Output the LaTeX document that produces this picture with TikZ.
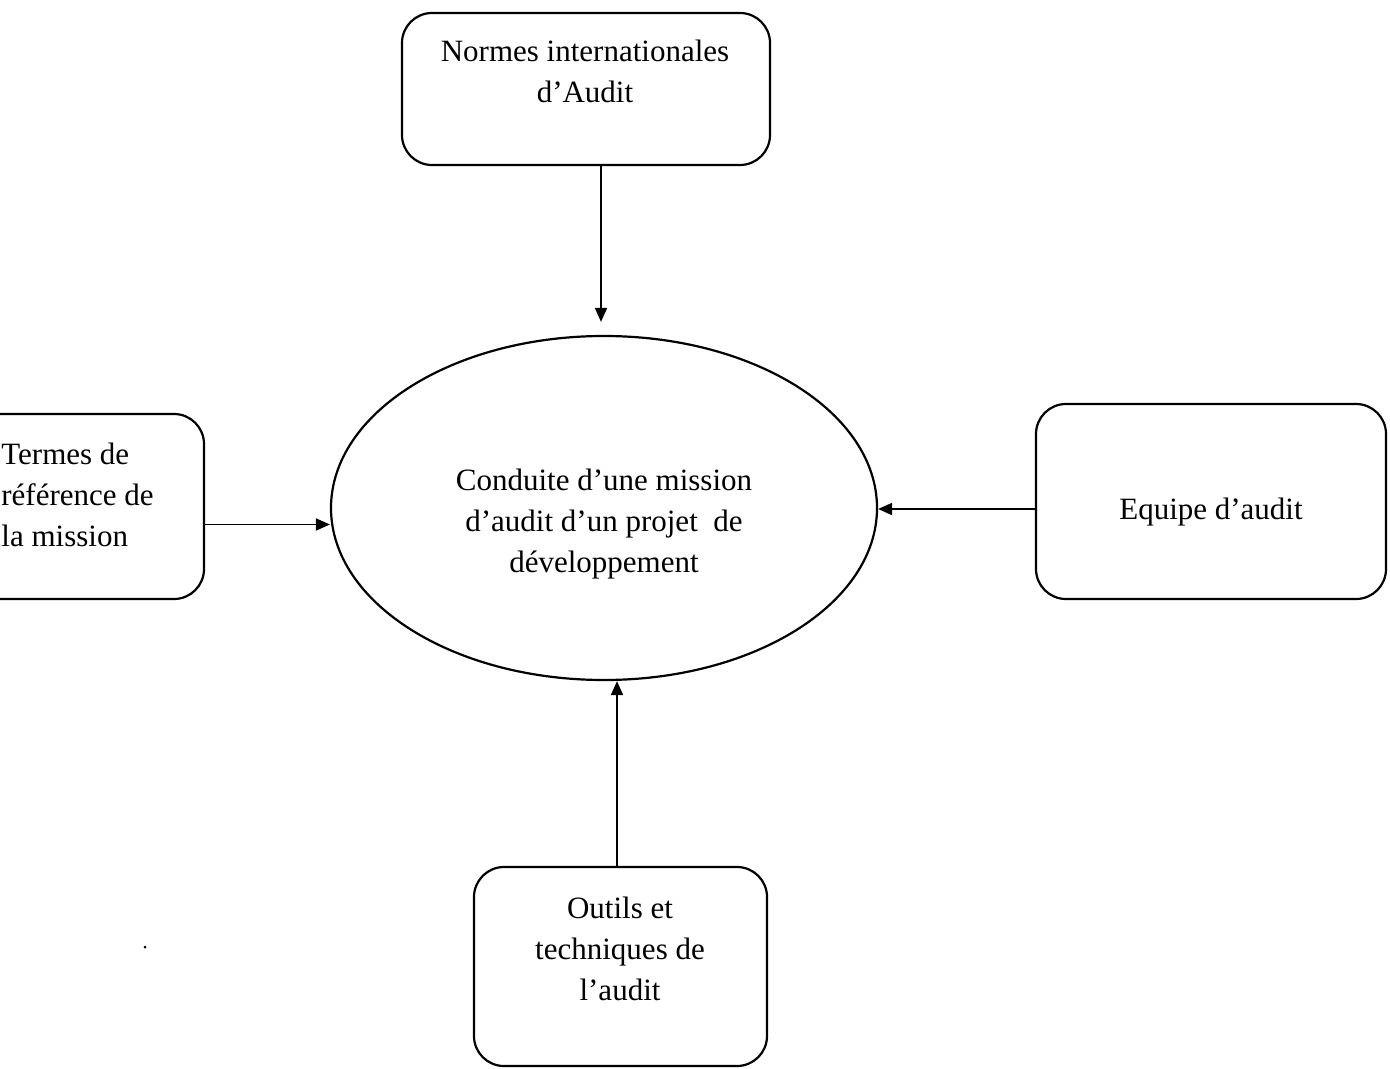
\documentclass[tikz,border=0pt]{standalone}
\usepackage{fontspec}
\setmainfont{Liberation Serif}
\usetikzlibrary{shapes.geometric,arrows.meta}
\begin{document}
\begin{tikzpicture}[x=0.5pt,y=-0.5pt,
  box/.style={draw,line width=1.1pt,rounded corners=15pt,inner sep=0pt},
  txt/.style={inner sep=0pt,align=center,font=\fontsize{15.5pt}{20.5pt}\selectfont},
  arr/.style={line width=0.9pt,-{Triangle[length=7pt,width=6pt]}}]
\useasboundingbox (0,0) rectangle (1390,1069);
% boxes
\node[box,minimum width=184pt,minimum height=76pt] (tb) at (586,89) {};
\node[box,minimum width=182pt,minimum height=92.5pt] (lb) at (22,506.5) {};
\node[box,minimum width=175pt,minimum height=97.5pt] (rb) at (1211,501.5) {};
\node[box,minimum width=146.5pt,minimum height=99.5pt] (bb) at (620.5,966.5) {};
\node[draw,ellipse,line width=1.1pt,minimum width=273pt,minimum height=172pt,inner sep=0pt] (ell) at (604,508) {};
% texts
\node[txt] (tbt) at (585,71) {Normes internationales\\d’Audit};
\node[txt,align=left,anchor=west] (lbt) at (1,495) {Termes de\\référence de\\la mission};
\node[txt] (rbt) at (1211,512) {Equipe d’audit};
\node[txt] (bbt) at (620,949) {Outils et\\techniques de\\l’audit};
\node[txt] (ellt) at (604,524) {Conduite d’une mission\\d’audit d’un projet~ de\\développement};
% connectors
\draw[arr,shorten >=6.5pt] ([xshift=-1.5pt]tb.south -| ell.north) -- ([xshift=-1.5pt]ell.north);
\draw[arr] ([yshift=-9pt]lb.east) -- ([yshift=-9pt]lb.east -| ell.west);
\draw[arr] ([yshift=-3.75pt]rb.west) -- ([yshift=-3.75pt]rb.west -| ell.east);
\draw[arr] ([xshift=-1.75pt]bb.north) -- ([xshift=-1.75pt]bb.north |- ell.south);
% stray dot
\node[circle,fill,inner sep=0pt,minimum size=1.5pt] (dot) at (145,947) {};
\end{tikzpicture}
\end{document}
